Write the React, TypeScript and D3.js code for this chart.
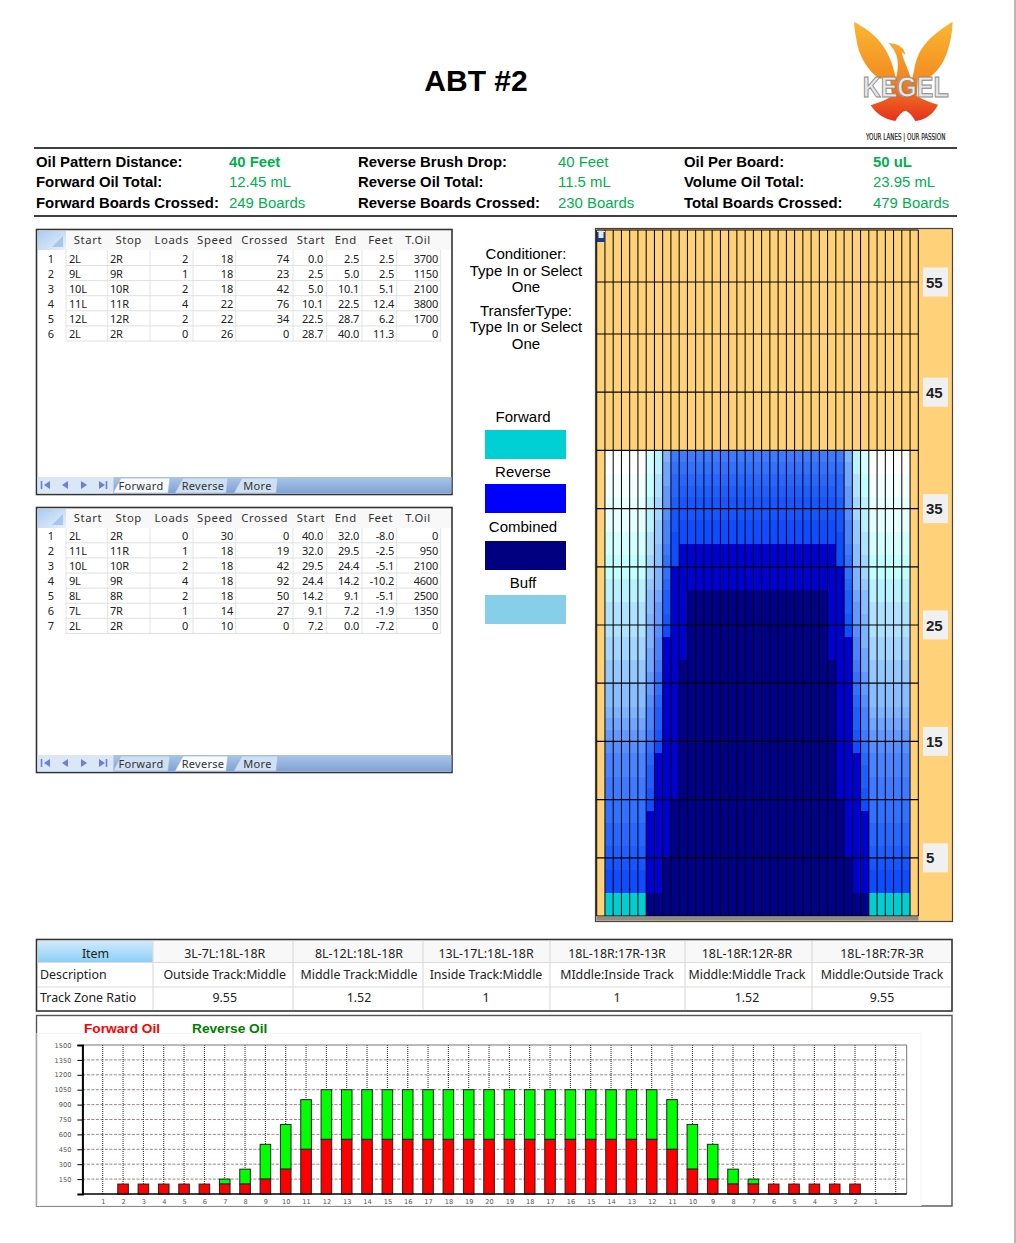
import { useEffect, useRef } from 'react';
import * as d3 from 'd3';

const sans = '"Liberation Sans", Arial, sans-serif';
const ui = '"Noto Sans", Tahoma, sans-serif';

// Header block
const infoLabels = [
    ['Oil Pattern Distance:', 'Forward Oil Total:', 'Forward Boards Crossed:'],
    ['Reverse Brush Drop:', 'Reverse Oil Total:', 'Reverse Boards Crossed:'],
    ['Oil Per Board:', 'Volume Oil Total:', 'Total Boards Crossed:'],
];
const infoValues = [
    ['40 Feet', '12.45 mL', '249 Boards'],
    ['40 Feet', '11.5 mL', '230 Boards'],
    ['50 uL', '23.95 mL', '479 Boards'],
];

// Load tables
const tableHeaders = ['Start', 'Stop', 'Loads', 'Speed', 'Crossed', 'Start', 'End', 'Feet', 'T.Oil'];
const forwardRows = [
    ['2L', '2R', '2', '18', '74', '0.0', '2.5', '2.5', '3700'],
    ['9L', '9R', '1', '18', '23', '2.5', '5.0', '2.5', '1150'],
    ['10L', '10R', '2', '18', '42', '5.0', '10.1', '5.1', '2100'],
    ['11L', '11R', '4', '22', '76', '10.1', '22.5', '12.4', '3800'],
    ['12L', '12R', '2', '22', '34', '22.5', '28.7', '6.2', '1700'],
    ['2L', '2R', '0', '26', '0', '28.7', '40.0', '11.3', '0'],
];
const reverseRows = [
    ['2L', '2R', '0', '30', '0', '40.0', '32.0', '-8.0', '0'],
    ['11L', '11R', '1', '18', '19', '32.0', '29.5', '-2.5', '950'],
    ['10L', '10R', '2', '18', '42', '29.5', '24.4', '-5.1', '2100'],
    ['9L', '9R', '4', '18', '92', '24.4', '14.2', '-10.2', '4600'],
    ['8L', '8R', '2', '18', '50', '14.2', '9.1', '-5.1', '2500'],
    ['7L', '7R', '1', '14', '27', '9.1', '7.2', '-1.9', '1350'],
    ['2L', '2R', '0', '10', '0', '7.2', '0.0', '-7.2', '0'],
];

// Track zone table
const zoneItems = ['3L-7L:18L-18R', '8L-12L:18L-18R', '13L-17L:18L-18R', '18L-18R:17R-13R', '18L-18R:12R-8R', '18L-18R:7R-3R'];
const zoneDescriptions = ['Outside Track:Middle', 'Middle Track:Middle', 'Inside Track:Middle', 'MIddle:Inside Track', 'Middle:Middle Track', 'Middle:Outside Track'];
const zoneRatios = ['9.55', '1.52', '1', '1', '1.52', '9.55'];

// Lane graph: shade level per foot (foot 0 first) for each board from the gutter in
const levelsOuter = [13, 13, 10, 10, 9.5, 9, 8.5, 8.5, 8, 8, 7.5, 7.5, 7, 7, 6.5, 6, 5.5, 5, 4.5, 4.5, 4, 4, 3.5, 3.5, 3, 3, 3, 2.5, 2.5, 2, 2, 1.5, 1.5, 1, 1, 1, 0.5, 0.5, 0, 0];
const levelsBoard7 = [12, 12, 11, 11, 11, 11, 11, 11, 11, 10, 9.5, 9, 9, 8.5, 8, 7.5, 7, 7, 6.5, 6, 6, 5.5, 5.5, 5, 5, 5, 4.5, 4.5, 4, 3.5, 3.5, 3, 3, 2.5, 2.5, 2.5, 2, 2, 1.5, 1.5];
const levelsBoard8 = [12, 12, 11, 11, 11, 11, 11, 11, 11, 11, 11, 11, 11, 11, 10, 9.5, 9, 9, 8.5, 8, 8, 7.5, 7, 7, 6.5, 6, 6, 5.5, 5, 5, 4.5, 4.5, 4, 4, 3.5, 3.5, 3, 3, 2.5, 2.5];
const levelsBoard9 = [12, 12, 12, 12, 12, 11, 11, 11, 11, 11, 11, 11, 11, 11, 11, 11, 11, 11, 11, 11, 11, 11, 11, 11, 10, 9.5, 9, 9, 8.5, 8, 8, 7.5, 7, 7, 6.5, 6, 6, 5.5, 5.5, 5];
const levelsBoard10 = [12, 12, 12, 12, 12, 12, 12, 12, 12, 12, 11, 11, 11, 11, 11, 11, 11, 11, 11, 11, 11, 11, 11, 11, 11, 11, 11, 11, 11, 11, 10, 10, 10, 9.5, 9.5, 9, 8.5, 8.5, 8, 7.5];
const levelsBoard11 = [12, 12, 12, 12, 12, 12, 12, 12, 12, 12, 12, 12, 12, 12, 12, 12, 12, 12, 12, 12, 12, 12, 11, 11, 11, 11, 11, 11, 11, 11, 11, 11, 10, 10, 9.5, 9.5, 9, 8.5, 8, 7.5];
const levelsCenter = [12, 12, 12, 12, 12, 12, 12, 12, 12, 12, 12, 12, 12, 12, 12, 12, 12, 12, 12, 12, 12, 12, 12, 12, 12, 12, 12, 12, 11, 11, 11, 11, 10, 10, 9.5, 9.5, 9, 8.5, 8, 7.5];
const laneFeetMarks = [5, 15, 25, 35, 45, 55];
const laneLines = [0, 5, 10, 15, 20, 25, 30, 35, 40, 45, 50, 55, 60];

// Legend in the middle column
const legendNames = ['Forward', 'Reverse', 'Combined', 'Buff'];
const legendColors = ['#00cfd4', '#0000ff', '#000080', '#87ceeb'];

// Oil per board chart
const boardLabels = ['1', '2', '3', '4', '5', '6', '7', '8', '9', '10', '11', '12', '13', '14', '15', '16', '17', '18', '19', '20', '19', '18', '17', '16', '15', '14', '13', '12', '11', '10', '9', '8', '7', '6', '5', '4', '3', '2', '1'];
const forwardOil = [0, 100, 100, 100, 100, 100, 100, 100, 150, 250, 450, 550, 550, 550, 550, 550, 550, 550, 550, 550, 550, 550, 550, 550, 550, 550, 550, 550, 450, 250, 150, 100, 100, 100, 100, 100, 100, 100, 0];
const reverseOil = [0, 0, 0, 0, 0, 0, 50, 150, 350, 450, 500, 500, 500, 500, 500, 500, 500, 500, 500, 500, 500, 500, 500, 500, 500, 500, 500, 500, 500, 450, 350, 150, 50, 0, 0, 0, 0, 0, 0];
const oilTicks = [150, 300, 450, 600, 750, 900, 1050, 1200, 1350, 1500];

const shade = d3
    .scaleLinear<string>()
    .domain(d3.range(14))
    .range(['#ffffff', '#e6ffff', '#c4ffff', '#b0e2ff', '#95c8ff', '#7fb2ff', '#6498ff', '#4a82ff', '#3270ff', '#1e5eff', '#0f4cff', '#0000d2', '#00008a', '#00ced1'])
    .interpolate(d3.interpolateRgb);

const boardLevels = (i: number) => {
    const k = i < 19 ? i : 38 - i; // mirror around board 20
    if (k === 0) return null;
    if (k <= 5) return levelsOuter;
    if (k === 6) return levelsBoard7;
    if (k === 7) return levelsBoard8;
    if (k === 8) return levelsBoard9;
    if (k === 9) return levelsBoard10;
    if (k === 10) return levelsBoard11;
    return levelsCenter;
};

function Info() {
    const labelX = [36, 358, 684];
    const valueX = [229, 558, 873];
    const rowY = [166.5, 187, 207.5];
    return (
        <g fontFamily={sans} fontSize={14.9}>
            {infoLabels.map((col, c) =>
                col.map((label, r) => (
                    <g key={label}>
                        <text x={labelX[c]} y={rowY[r]} fontWeight="bold" fill="#000">{label}</text>
                        <text
                            x={valueX[c]}
                            y={rowY[r]}
                            fill="#00b050"
                            fontWeight={r === 0 && c !== 1 ? 'bold' : 'normal'}
                        >
                            {infoValues[c][r]}
                        </text>
                    </g>
                ))
            )}
        </g>
    );
}

function LoadTable({ top, rows, active, firstRow }: { top: number; rows: string[][]; active: number; firstRow: number }) {
    const edges = [66, 107.7, 150, 193, 235.7, 293, 326.7, 362, 396.7, 440.7];
    const headerX = [88, 128.7, 171.7, 215, 264.7, 311, 345.7, 380.7, 418];
    const textX = [69, 110, 188, 233, 289, 323, 359, 394, 438];
    const rowH = 15.1;
    const bottom = top + 265;
    const tabs = [
        { name: 'Forward', x0: 113, x1: 168, cx: 141 },
        { name: 'Reverse', x0: 175, x1: 226, cx: 203 },
        { name: 'More', x0: 234, x1: 276, cx: 257.5 },
    ];
    const barTop = bottom - 17;
    return (
        <g fontFamily={ui} fontSize={11} fill="#222">
            <rect x={36.5} y={top + 0.5} width={415.5} height={265} fill="#fff" stroke="#333" strokeWidth={1.6} />
            <rect x={38} y={top + 2} width={413} height={19} fill="#f8f8f8" />
            <rect x={38} y={top + 2} width={28} height={19} fill="url(#cornerCell)" />
            <path d={`M52,${top + 18} L63,${top + 18} L63,${top + 7} Z`} fill="#a9c5ea" />
            {edges.map((x) => (
                <line key={x} x1={x} x2={x} y1={top + 21} y2={firstRow + rows.length * rowH - 7} stroke="#e4e4e4" />
            ))}
            {tableHeaders.map((h, i) => (
                <text key={i} x={headerX[i]} y={top + 10.8} textAnchor="middle" dominantBaseline="central" fontSize={11.3} letterSpacing={0.6} fill="#333">
                    {h}
                </text>
            ))}
            {rows.map((row, r) => {
                const y = firstRow + r * rowH;
                return (
                    <g key={r}>
                        <line x1={66} x2={440.7} y1={y + 7.5} y2={y + 7.5} stroke="#e0e0e0" />
                        <text x={51} y={y} textAnchor="middle" dominantBaseline="central">{r + 1}</text>
                        {row.map((cell, c) => (
                            <text
                                key={c}
                                x={textX[c]}
                                y={y}
                                textAnchor={c < 2 ? 'start' : 'end'}
                                dominantBaseline="central"
                                letterSpacing={-0.2}
                            >
                                {cell}
                            </text>
                        ))}
                    </g>
                );
            })}
            <rect x={37.5} y={barTop} width={414} height={16.5} fill="url(#tabBar)" />
            <rect x={37.5} y={barTop} width={76} height={16.5} fill="#dbe7f6" />
            <line x1={41.5} x2={41.5} y1={barTop + 4} y2={barTop + 12} stroke="#6a7fe0" strokeWidth={1.6} />
            <path d={`M50,${barTop + 4} L44,${barTop + 8} L50,${barTop + 12} Z`} fill="#6a7fe0" />
            <path d={`M68,${barTop + 4} L62,${barTop + 8} L68,${barTop + 12} Z`} fill="#6a7fe0" />
            <path d={`M81,${barTop + 4} L87,${barTop + 8} L81,${barTop + 12} Z`} fill="#6a7fe0" />
            <path d={`M99,${barTop + 4} L105,${barTop + 8} L99,${barTop + 12} Z`} fill="#6a7fe0" />
            <line x1={106.5} x2={106.5} y1={barTop + 4} y2={barTop + 12} stroke="#6a7fe0" strokeWidth={1.6} />
            {tabs.map((t, i) => (
                <g key={t.name}>
                    <path
                        d={`M${t.x0},${bottom - 1} L${t.x0 + 8},${barTop + 1} L${t.x1 + 2},${barTop + 1} L${t.x1},${bottom - 1} Z`}
                        fill={i === active ? '#f7f9fc' : '#cfe0f3'}
                        stroke="#9db4d4"
                        strokeWidth={0.6}
                    />
                    <text x={t.cx} y={barTop + 8.2} textAnchor="middle" dominantBaseline="central" fill="#333" letterSpacing={0.3}>
                        {t.name}
                    </text>
                </g>
            ))}
        </g>
    );
}

function MiddleColumn() {
    const notes: [string, number][] = [
        ['Conditioner:', 253],
        ['Type In or Select', 270],
        ['One', 286],
        ['TransferType:', 310],
        ['Type In or Select', 326],
        ['One', 343],
    ];
    const labelY = [416, 471, 526, 582];
    const swatchY = [430, 484, 541, 595];
    return (
        <g fontFamily={sans} fontSize={15} fill="#000">
            {notes.map(([t, y], i) => (
                <text key={i} x={526} y={y} textAnchor="middle" dominantBaseline="central">{t}</text>
            ))}
            {legendNames.map((name, i) => (
                <g key={name}>
                    <text x={523} y={labelY[i]} textAnchor="middle" dominantBaseline="central">{name}</text>
                    <rect x={485} y={swatchY[i]} width={81} height={29} fill={legendColors[i]} />
                </g>
            ))}
        </g>
    );
}

function LaneGraph() {
    const x = d3.scaleLinear().domain([0, 39]).range([596.7, 918.3]);
    const y = d3.scaleLinear().domain([0, 50, 60]).range([916, 334, 230]);
    return (
        <g>
            <rect x={595.5} y={228.5} width={357} height={693} fill="#ffd27a" stroke="#444" strokeWidth={1.2} />
            {d3.range(39).map((i) => {
                const levels = boardLevels(i);
                if (!levels) return null;
                return levels.map((lv, f) => (
                    <rect
                        key={`${i}-${f}`}
                        x={x(i)}
                        y={y(f + 1)}
                        width={x(i + 1) - x(i) + 0.2}
                        height={y(f) - y(f + 1) + 0.2}
                        fill={shade(lv)}
                        shapeRendering="crispEdges"
                    />
                ));
            })}
            {d3.range(40).map((i) => (
                <line key={i} x1={x(i)} x2={x(i)} y1={y(60)} y2={y(0)} stroke="#000" strokeWidth={1} />
            ))}
            {laneLines.map((f) => (
                <line key={f} x1={x(0)} x2={x(39)} y1={y(f)} y2={y(f)} stroke="#000" strokeWidth={1.2} />
            ))}
            <rect x={596.5} y={916.5} width={322} height={4} fill="#8c8c8c" />
            <rect x={597} y={231} width={8} height={11} fill="#dfe9f5" />
            <rect x={597} y={238} width={8} height={4} fill="#123c8c" />
            <rect x={597} y={232} width={1.5} height={8} fill="#123c8c" />
            <rect x={603.5} y={232} width={1.5} height={8} fill="#123c8c" />
            {laneFeetMarks.map((f) => (
                <g key={f}>
                    <rect x={923} y={y(f) - 14.5} width={25} height={29} fill="#f0f0f0" />
                    <text
                        x={926}
                        y={y(f)}
                        dominantBaseline="central"
                        fontFamily={sans}
                        fontWeight="bold"
                        fontSize={15}
                        fill="#222"
                    >
                        {f}
                    </text>
                </g>
            ))}
        </g>
    );
}

function ZoneTable() {
    const edges = [153, 293, 423, 550, 685, 812];
    const centers = [224.7, 359, 486, 617, 747, 882];
    const rows = [zoneItems, zoneDescriptions, zoneRatios];
    const rowLabels = ['Item', 'Description', 'Track Zone Ratio'];
    const rowY = [953.5, 974, 997.5];
    return (
        <g fontFamily={ui} fontSize={12.4} fill="#222">
            <rect x={36.5} y={939.5} width={915.5} height={71.5} fill="#fff" stroke="#333" strokeWidth={1.6} />
            <rect x={38} y={941} width={913} height={21} fill="#f8f8f8" />
            <rect x={38} y={941} width={115} height={21} fill="url(#itemCell)" />
            {edges.map((x) => (
                <line key={x} x1={x} x2={x} y1={941} y2={1010} stroke="#dcdcdc" strokeWidth={1.2} />
            ))}
            <line x1={38} x2={951} y1={962.5} y2={962.5} stroke="#dcdcdc" strokeWidth={1.2} />
            <line x1={38} x2={951} y1={987} y2={987} stroke="#dcdcdc" strokeWidth={1.2} />
            {rowLabels.map((t, i) => (
                <text key={t} x={i === 0 ? 95.5 : 40} y={rowY[i]} textAnchor={i === 0 ? 'middle' : 'start'} dominantBaseline="central">
                    {t}
                </text>
            ))}
            {rows.map((row, r) =>
                row.map((t, c) => (
                    <text key={`${r}-${c}`} x={centers[c]} y={rowY[r]} textAnchor="middle" dominantBaseline="central">
                        {t}
                    </text>
                ))
            )}
        </g>
    );
}

function OilChart() {
    const axisX = useRef<SVGGElement>(null);
    const axisY = useRef<SVGGElement>(null);

    const left = 82.4;
    const right = 906.7;
    const top = 1045;
    const bottom = 1194;
    const barWidth = 10.6;

    const x = d3
        .scalePoint<number>()
        .domain(d3.range(41))
        .range([left, 895.7]);
    const y = d3.scaleLinear().domain([0, 1500]).range([bottom, top]);
    const pos = (i: number) => x(i + 1) || 0;

    useEffect(() => {
        if (!axisX.current || !axisY.current) return;

        d3.select(axisY.current)
            .call(d3.axisLeft(y).tickValues(oilTicks).tickSize(5).tickPadding(6).tickFormat(d3.format('d')))
            .call((g) => g.select('.domain').attr('stroke', '#000').attr('stroke-width', 2))
            .call((g) =>
                g
                    .selectAll('.tick text')
                    .attr('font-size', 6.6)
                    .attr('font-family', '"DejaVu Sans"')
                    .attr('fill', '#555')
            );

        d3.select(axisX.current)
            .call(
                d3
                    .axisBottom(x)
                    .tickValues(d3.range(1, 40))
                    .tickSize(0)
                    .tickPadding(5)
                    .tickFormat((i) => boardLabels[(i as number) - 1])
            )
            .call((g) => g.select('.domain').remove())
            .call((g) =>
                g
                    .selectAll('.tick text')
                    .attr('font-size', 6.6)
                    .attr('font-family', '"DejaVu Sans"')
                    .attr('fill', '#555')
            );
    }, []);

    return (
        <g>
            <rect x={36.5} y={1015.5} width={915.5} height={190.5} fill="#fff" stroke="#555" strokeWidth={1.4} />
            <rect x={37} y={1033.5} width={884} height={172} fill="none" stroke="#f4f4f4" />
            <g fontFamily={sans} fontSize={13.7} fontWeight="bold">
                <text x={84} y={1033} fill="#ff0000">Forward Oil</text>
                <text x={192} y={1033} fill="#008000">Reverse Oil</text>
            </g>
            {oilTicks.slice(0, -1).map((t) => (
                <line key={t} x1={left} x2={right} y1={y(t)} y2={y(t)} stroke="#7a4a4a" strokeWidth={0.9} strokeDasharray="3 1.5" opacity={0.75} />
            ))}
            {d3.range(1, 41).map((i) => (
                <line key={i} x1={x(i) || 0} x2={x(i) || 0} y1={top} y2={bottom} stroke="#222" strokeWidth={1} strokeDasharray="1 1" />
            ))}
            <line x1={left} x2={right} y1={top} y2={top} stroke="#777" strokeWidth={1} />
            <line x1={right} x2={right} y1={top} y2={bottom} stroke="#777" strokeWidth={1} />
            {boardLabels.map((_, i) => {
                if (forwardOil[i] + reverseOil[i] === 0) return null;
                const total = forwardOil[i] + reverseOil[i];
                return (
                    <g key={i} stroke="#222" strokeWidth={1}>
                        {reverseOil[i] > 0 && (
                            <rect
                                x={pos(i) - barWidth / 2}
                                y={y(total)}
                                width={barWidth}
                                height={y(forwardOil[i]) - y(total)}
                                fill="#00ff00"
                            />
                        )}
                        <rect
                            x={pos(i) - barWidth / 2}
                            y={y(forwardOil[i])}
                            width={barWidth}
                            height={bottom - y(forwardOil[i])}
                            fill="#ff0000"
                        />
                    </g>
                );
            })}
            <line x1={left} x2={right} y1={bottom} y2={bottom} stroke="#000" strokeWidth={1.6} />
            <g ref={axisY} transform={`translate(${left},0)`} />
            <g ref={axisX} transform={`translate(0,${bottom})`} />
        </g>
    );
}

function Logo() {
    return (
        <g transform="translate(840,10) scale(0.3333)">
            {/* left wing, right wing, neck and head, tail */}
            <path d="M42,35 C70,50 102,72 122,98 C142,124 154,150 162,182 L170,215 L118,205 C92,190 72,160 58,125 C50,100 44,65 42,35 Z" fill="url(#phoenix)" />
            <path d="M338,35 C300,58 262,88 244,118 C232,138 226,158 222,182 L214,215 L262,205 C290,190 310,160 322,125 C332,95 337,65 338,35 Z" fill="url(#phoenix)" />
            <path d="M166,215 C174,185 176,160 170,138 C164,122 156,110 146,100 C164,100 180,106 190,118 L197,134 L185,127 C190,150 202,170 216,215 Z" fill="url(#phoenixBody)" />
            <path d="M150,205 L234,205 L230,258 C250,270 272,278 294,284 C282,312 254,330 226,333 C218,318 208,306 196,302 C184,306 174,318 166,333 C138,330 108,312 92,286 C116,278 138,270 156,258 Z" fill="url(#phoenixBody)" />
            <text
                x={197}
                y={260}
                textAnchor="middle"
                fontFamily={sans}
                fontWeight="bold"
                fontSize={88}
                textLength={258}
                lengthAdjust="spacingAndGlyphs"
                fill="#e6e6e6"
                stroke="#8a8a8a"
                strokeWidth={3}
            >
                KEGEL
            </text>
            <text
                x={197}
                y={389}
                textAnchor="middle"
                fontFamily={'"Liberation Sans Narrow", "DejaVu Sans Condensed", sans-serif'}
                fontSize={27}
                textLength={238}
                lengthAdjust="spacingAndGlyphs"
                fill="#222"
                stroke="#222"
                strokeWidth={0.6}
            >
                YOUR LANES | OUR PASSION
            </text>
        </g>
    );
}

export default function App() {
    return (
        <svg
            width={1016}
            height={1243}
            style={{ position: 'absolute', left: 0, top: 0, display: 'block', background: '#fff' }}
        >
            <defs>
                <linearGradient id="phoenix" gradientUnits="userSpaceOnUse" x1="0" y1="35" x2="0" y2="220">
                    <stop offset="0%" stopColor="#fbb632" />
                    <stop offset="100%" stopColor="#f28a1e" />
                </linearGradient>
                <linearGradient id="phoenixBody" gradientUnits="userSpaceOnUse" x1="0" y1="100" x2="0" y2="333">
                    <stop offset="0%" stopColor="#f9a92c" />
                    <stop offset="55%" stopColor="#f27a20" />
                    <stop offset="100%" stopColor="#e62f1c" />
                </linearGradient>
                <linearGradient id="cornerCell" x1="0" y1="0" x2="1" y2="1">
                    <stop offset="0%" stopColor="#a9cbf2" />
                    <stop offset="100%" stopColor="#e8f1fb" />
                </linearGradient>
                <linearGradient id="itemCell" x1="0" y1="0" x2="0" y2="1">
                    <stop offset="0%" stopColor="#cfeafa" />
                    <stop offset="100%" stopColor="#8dd0f6" />
                </linearGradient>
                <linearGradient id="tabBar" x1="0" y1="0" x2="0" y2="1">
                    <stop offset="0%" stopColor="#a9c5ea" />
                    <stop offset="100%" stopColor="#7fa2d4" />
                </linearGradient>
            </defs>

            <text x={476} y={90.5} textAnchor="middle" fontFamily={sans} fontWeight="bold" fontSize={30} fill="#000">
                ABT #2
            </text>
            <Logo />
            <line x1={34} x2={957} y1={148} y2={148} stroke="#000" strokeWidth={1.6} />
            <Info />
            <line x1={34} x2={957} y1={216} y2={216} stroke="#000" strokeWidth={1.6} />

            <LoadTable top={229} rows={forwardRows} active={0} firstRow={258} />
            <LoadTable top={507} rows={reverseRows} active={1} firstRow={535.3} />
            <MiddleColumn />
            <LaneGraph />
            <ZoneTable />
            <OilChart />
            <line x1={1015} x2={1015} y1={0} y2={1243} stroke="#9a9a9a" strokeWidth={1.4} />
        </svg>
    );
}
